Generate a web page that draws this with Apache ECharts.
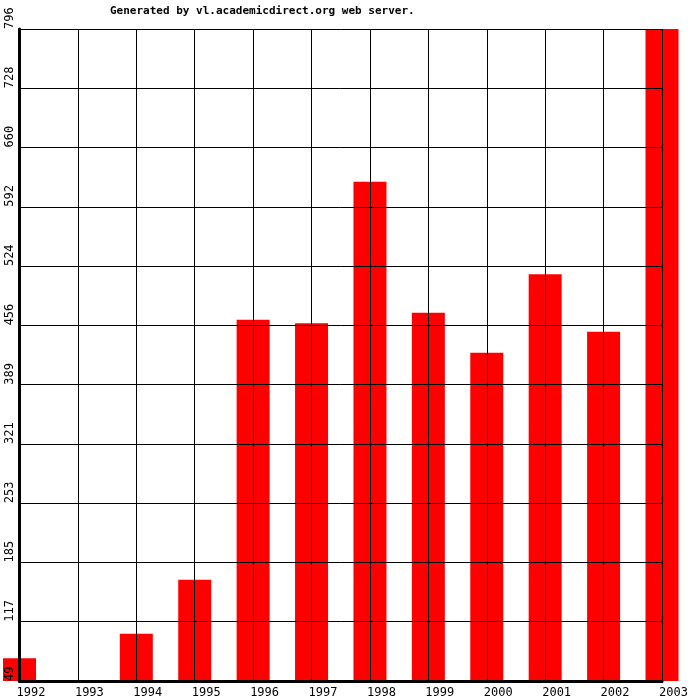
<!DOCTYPE html>
<html>
<head>
<meta charset="utf-8">
<script src="https://cdn.jsdelivr.net/npm/echarts@6/dist/echarts.min.js"></script>
<style>
  html, body { margin: 0; padding: 0; background: #fff; }
  #chart { width: 700px; height: 700px; }
</style>
</head>
<body>
<div id="chart"></div>
<script>
const years = ['1992', '1993', '1994', '1995', '1996', '1997', '1998', '1999', '2000', '2001', '2002', '2003']
const counts = [75, 0, 103, 165, 463, 459, 621, 471, 425, 515, 449, 796]
const yTickLabels = ['49', '117', '185', '253', '321', '389', '456', '524', '592', '660', '728', '796']
const yMin = 49
const yMax = 796

const MONO = '"DejaVu Sans Mono", "Liberation Mono", monospace'

const chart = echarts.init(document.getElementById('chart'))

// plot frame: 19.5 .. 662 horizontally, 29 .. 681 vertically
const bandHalf = (662 - 19.5) / 11 / 2

chart.setOption({
  animation: false,
  backgroundColor: '#fff',
  title: {
    text: 'Generated by vl.academicdirect.org web server.',
    left: 105,
    top: 1,
    textStyle: { fontFamily: MONO, fontSize: 11, fontWeight: 'bold', color: '#000' },
  },
  grid: [
    // bars: band axis so each bar sits centred on a grid line
    { left: 19.5 - bandHalf, right: 700 - 662 - bandHalf, top: 29, bottom: 19, outerBoundsMode: 'none' },
    // frame + grid lines, drawn over the bars
    { left: 19.5, right: 38, top: 29, bottom: 19, outerBoundsMode: 'none' },
  ],
  xAxis: [
    {
      type: 'category',
      gridIndex: 0,
      data: years,
      boundaryGap: true,
      show: false,
    },
    {
      type: 'category',
      gridIndex: 1,
      data: years,
      boundaryGap: false,
      z: 10,
      axisLine: { lineStyle: { color: '#000', width: 3 } },
      axisTick: { show: false },
      splitLine: { show: true, lineStyle: { color: '#000', width: 1 } },
      axisLabel: {
        interval: 0,
        align: 'left',
        margin: 6,
        color: '#000',
        fontFamily: MONO,
        fontSize: 12,
        padding: [0, 0, 0, -3],
      },
    },
  ],
  yAxis: [
    {
      type: 'value',
      gridIndex: 0,
      min: yMin,
      max: yMax,
      show: false,
    },
    {
      type: 'value',
      gridIndex: 1,
      min: 0,
      max: yTickLabels.length - 1,
      interval: 1,
      z: 10,
      axisLine: { show: true, lineStyle: { color: '#000', width: 3 } },
      axisTick: { show: false },
      splitLine: { show: true, lineStyle: { color: '#000', width: 1 } },
      axisLabel: {
        rotate: 90,
        align: 'left',
        verticalAlign: 'bottom',
        margin: 4,
        color: '#000',
        fontFamily: MONO,
        fontSize: 12,
        formatter: (v) => yTickLabels[Math.round(v)],
      },
    },
  ],
  series: [
    {
      type: 'bar',
      xAxisIndex: 0,
      yAxisIndex: 0,
      data: counts,
      barWidth: 33,
      clip: true,
      itemStyle: { color: '#ff0000' },
    },
  ],
})
</script>
</body>
</html>
